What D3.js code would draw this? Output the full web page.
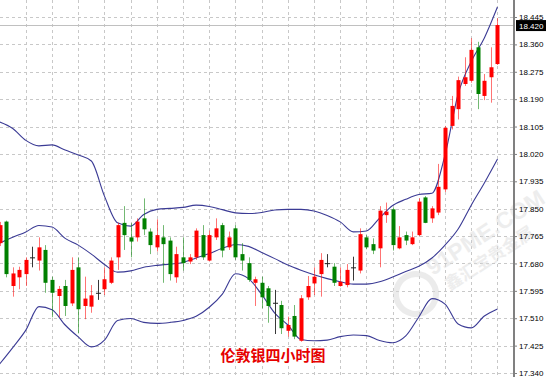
<!DOCTYPE html>
<html>
<head>
<meta charset="utf-8">
<script src="https://cdn.jsdelivr.net/npm/d3@7"></script>
<style>
  body { margin: 0; background: #fff; }
  svg { display: block; }
</style>
</head>
<body>
<div id="chart"></div>
<script>
// =======================
// CANDLESTICK + BOLLINGER BANDS
// London silver, 4 hour chart
// =======================

// Candle values (oldest first)
const opens = [17.743, 17.810, 17.610, 17.637, 17.647, 17.699, 17.689, 17.722, 17.629, 17.579,
  17.610, 17.556, 17.668, 17.548, 17.546, 17.589, 17.600, 17.620, 17.699, 17.806,
  17.761, 17.761, 17.820, 17.779, 17.730, 17.761, 17.751, 17.637, 17.699, 17.686,
  17.699, 17.768, 17.689, 17.761, 17.799, 17.730, 17.789, 17.709, 17.681, 17.620,
  17.620, 17.603, 17.558, 17.551, 17.471, 17.517, 17.440, 17.575, 17.618, 17.647,
  17.681, 17.670, 17.610, 17.613, 17.668, 17.658, 17.761, 17.740, 17.727, 17.830,
  17.848, 17.727, 17.768, 17.740, 17.768, 17.885, 17.820, 17.838, 17.910, 18.107,
  18.159, 18.237, 18.247, 18.351, 18.200, 18.258, 18.299];
const highs = [17.809, 17.813, 17.668, 17.670, 17.699, 17.732, 17.761, 17.737, 17.639, 17.610,
  17.629, 17.699, 17.699, 17.639, 17.613, 17.629, 17.668, 17.699, 17.806, 17.858,
  17.805, 17.820, 17.882, 17.789, 17.817, 17.799, 17.761, 17.732, 17.761, 17.709,
  17.789, 17.799, 17.782, 17.820, 17.806, 17.779, 17.799, 17.743, 17.699, 17.639,
  17.639, 17.610, 17.598, 17.564, 17.515, 17.551, 17.582, 17.641, 17.668, 17.712,
  17.709, 17.681, 17.668, 17.678, 17.701, 17.789, 17.768, 17.758, 17.858, 17.869,
  17.854, 17.796, 17.779, 17.779, 17.882, 17.889, 17.858, 17.989, 18.107, 18.200,
  18.260, 18.320, 18.379, 18.368, 18.268, 18.351, 18.441];
const lows = [17.734, 17.637, 17.577, 17.600, 17.610, 17.668, 17.658, 17.589, 17.513, 17.513,
  17.517, 17.548, 17.463, 17.507, 17.527, 17.567, 17.582, 17.616, 17.660, 17.722,
  17.699, 17.748, 17.768, 17.709, 17.717, 17.620, 17.627, 17.620, 17.658, 17.678,
  17.691, 17.691, 17.686, 17.753, 17.699, 17.722, 17.691, 17.658, 17.623, 17.548,
  17.541, 17.496, 17.461, 17.461, 17.453, 17.445, 17.437, 17.567, 17.582, 17.577,
  17.668, 17.610, 17.608, 17.606, 17.627, 17.649, 17.724, 17.709, 17.668, 17.806,
  17.720, 17.724, 17.737, 17.737, 17.765, 17.805, 17.806, 17.830, 17.902, 18.096,
  18.127, 18.231, 18.241, 18.159, 18.187, 18.179, 18.296];
const closes = [17.799, 17.647, 17.649, 17.660, 17.691, 17.699, 17.730, 17.620, 17.589, 17.601,
  17.548, 17.660, 17.538, 17.571, 17.581, 17.589, 17.631, 17.689, 17.799, 17.768,
  17.748, 17.810, 17.786, 17.737, 17.768, 17.740, 17.647, 17.709, 17.681, 17.699,
  17.782, 17.699, 17.768, 17.789, 17.720, 17.761, 17.699, 17.689, 17.629, 17.631,
  17.575, 17.548, 17.558, 17.479, 17.489, 17.453, 17.572, 17.610, 17.639, 17.691,
  17.681, 17.620, 17.623, 17.660, 17.668, 17.771, 17.730, 17.720, 17.844, 17.841,
  17.737, 17.761, 17.751, 17.761, 17.872, 17.806, 17.851, 17.918, 18.101, 18.169,
  18.249, 18.258, 18.343, 18.206, 18.247, 18.289, 18.420];

// Bollinger bands, read every second candle
const bandUpper = [18.119, 18.099, 18.062, 18.045, 18.048, 18.032, 18.017, 17.998, 17.889, 17.806,
  17.796, 17.832, 17.848, 17.851, 17.854, 17.861, 17.857, 17.847, 17.837, 17.835,
  17.838, 17.846, 17.848, 17.848, 17.843, 17.829, 17.809, 17.778, 17.781, 17.821,
  17.860, 17.879, 17.894, 17.898, 18.017, 18.206, 18.307, 18.380, 18.476];
const bandMiddle = [17.743, 17.761, 17.778, 17.798, 17.793, 17.758, 17.737, 17.709, 17.677, 17.653,
  17.657, 17.668, 17.674, 17.678, 17.683, 17.697, 17.711, 17.727, 17.739, 17.733,
  17.714, 17.695, 17.675, 17.659, 17.645, 17.633, 17.623, 17.616, 17.616, 17.623,
  17.638, 17.655, 17.671, 17.697, 17.737, 17.787, 17.861, 17.930, 18.004];
const bandLower = [17.368, 17.419, 17.473, 17.546, 17.536, 17.489, 17.452, 17.421, 17.442, 17.503,
  17.509, 17.497, 17.494, 17.497, 17.503, 17.516, 17.544, 17.585, 17.648, 17.633,
  17.584, 17.526, 17.489, 17.444, 17.440, 17.442, 17.453, 17.458, 17.456, 17.441,
  17.434, 17.455, 17.514, 17.571, 17.554, 17.492, 17.480, 17.517, 17.539];

// Price axis
const yTicks = [17.340, 17.425, 17.510, 17.595, 17.680, 17.765, 17.850, 17.935,
  18.020, 18.105, 18.190, 18.275, 18.360, 18.445];
const lastPrice = 18.420;
const title = "伦敦银四小时图";

// Chart dimensions
const width = 548, height = 377;
const axisX = 514;

const svg = d3.select("#chart")
  .append("svg")
    .attr("width", width)
    .attr("height", height);

const n = closes.length;
const candles = closes.map((c, i) => ({ i, o: opens[i], h: highs[i], l: lows[i], c }));

// X scale (candle index)
const x = d3.scaleLinear()
  .domain([0, n - 1])
  .range([-0.35, 497.45]);

// Y scale
const y = d3.scaleLinear()
  .domain([17.340, 18.445])
  .range([373, 17]);

// Grid
const grid = svg.append("g")
  .attr("stroke", "#c8c8c8")
  .attr("stroke-dasharray", "3,3")
  .attr("stroke-width", 1)
  .attr("shape-rendering", "crispEdges");

grid.selectAll("line.h")
  .data(yTicks)
  .enter()
  .append("line")
    .attr("class", "h")
    .attr("x1", 0)
    .attr("x2", axisX)
    .attr("y1", d => Math.round(y(d)) + 0.5)
    .attr("y2", d => Math.round(y(d)) + 0.5);

grid.selectAll("line.v")
  .data(d3.range(4, n, 4))
  .enter()
  .append("line")
    .attr("class", "v")
    .attr("x1", d => Math.round(x(d)) + 0.5)
    .attr("x2", d => Math.round(x(d)) + 0.5)
    .attr("y1", 0)
    .attr("y2", height);

// Watermark
const wm = svg.append("g")
  .attr("opacity", 0.5)
  .attr("transform", "translate(416,294) rotate(-33)");
wm.append("circle")
  .attr("cx", 0).attr("cy", 0).attr("r", 20)
  .attr("fill", "none")
  .attr("stroke", "#d8d8d8")
  .attr("stroke-width", 6);
wm.append("text")
  .attr("x", 24).attr("y", -6)
  .style("font-family", "Liberation Sans, Arial, sans-serif")
  .style("font-size", "23px")
  .style("font-weight", "bold")
  .attr("fill", "#dcdcdc")
  .text("91PME.COM");
wm.append("text")
  .attr("x", 30).attr("y", 16)
  .style("font-family", "Noto Sans CJK SC, sans-serif")
  .style("font-size", "17px")
  .style("font-weight", "bold")
  .attr("fill", "#dcdcdc")
  .text("鑫汇宝贵金属");

// Last price line
svg.append("line")
  .attr("x1", 0)
  .attr("x2", axisX)
  .attr("y1", Math.round(y(lastPrice)) + 0.5)
  .attr("y2", Math.round(y(lastPrice)) + 0.5)
  .attr("stroke", "#c0c0c0")
  .attr("stroke-width", 1);

// Bollinger band lines
const bandIdx = d3.range(0, n, 2);
const bandLine = d3.line()
  .x((d, k) => x(bandIdx[k]))
  .y(d => y(d))
  .curve(d3.curveMonotoneX);

[bandUpper, bandMiddle, bandLower].forEach(band => {
  svg.append("path")
    .datum(band)
    .attr("d", bandLine)
    .attr("fill", "none")
    .attr("stroke", "#3b3b95")
    .attr("stroke-width", 1.1);
});

// Candles
const colorOf = d => d.c > d.o ? "#ff0000" : d.c < d.o ? "#008000" : "#222";

const candleG = svg.append("g")
  .selectAll("g")
  .data(candles)
  .enter()
  .append("g");

candleG.append("line")
  .attr("x1", d => Math.round(x(d.i)) + 0.5)
  .attr("x2", d => Math.round(x(d.i)) + 0.5)
  .attr("y1", d => y(d.h))
  .attr("y2", d => y(d.l))
  .attr("stroke", colorOf)
  .attr("stroke-opacity", d => d.c === d.o ? 0.9 : 0.55)
  .attr("stroke-width", 1);

candleG.append("rect")
  .attr("x", d => d.c === d.o ? Math.round(x(d.i)) - 2 : Math.round(x(d.i)) - 1.5)
  .attr("width", d => d.c === d.o ? 5 : 4)
  .attr("y", d => y(Math.max(d.o, d.c)))
  .attr("height", d => Math.max(1, Math.abs(y(d.o) - y(d.c))))
  .attr("fill", colorOf);

// Right axis
const axis = svg.append("g")
  .attr("transform", `translate(${axisX},0)`)
  .call(d3.axisRight(y).tickValues(yTicks).tickFormat(d3.format(".3f")).tickSize(3).tickSizeOuter(0));

axis.select(".domain")
  .attr("stroke", "#808080")
  .attr("stroke-width", 2)
  .attr("d", `M0,0V${height}`);
axis.selectAll(".tick line").attr("stroke", "#808080");
axis.selectAll(".tick text")
  .attr("x", 5)
  .style("font-family", "Liberation Sans, Arial, sans-serif")
  .style("font-size", "8px")
  .attr("fill", "#000");

// Last price tag
svg.append("rect")
  .attr("x", axisX + 2)
  .attr("y", y(lastPrice) - 5)
  .attr("width", 30)
  .attr("height", 11)
  .attr("fill", "#000");
svg.append("text")
  .attr("x", axisX + 5)
  .attr("y", y(lastPrice) + 1.2)
  .attr("dy", "0.33em")
  .style("font-family", "Liberation Sans, Arial, sans-serif")
  .style("font-size", "8px")
  .attr("fill", "#fff")
  .text(d3.format(".3f")(lastPrice));

// Title
svg.append("text")
  .attr("x", 273)
  .attr("y", 361)
  .attr("text-anchor", "middle")
  .style("font-family", "Noto Sans CJK SC, sans-serif")
  .style("font-size", "15px")
  .style("font-weight", "bold")
  .attr("fill", "#e60000")
  .text(title);
</script>
</body>
</html>
